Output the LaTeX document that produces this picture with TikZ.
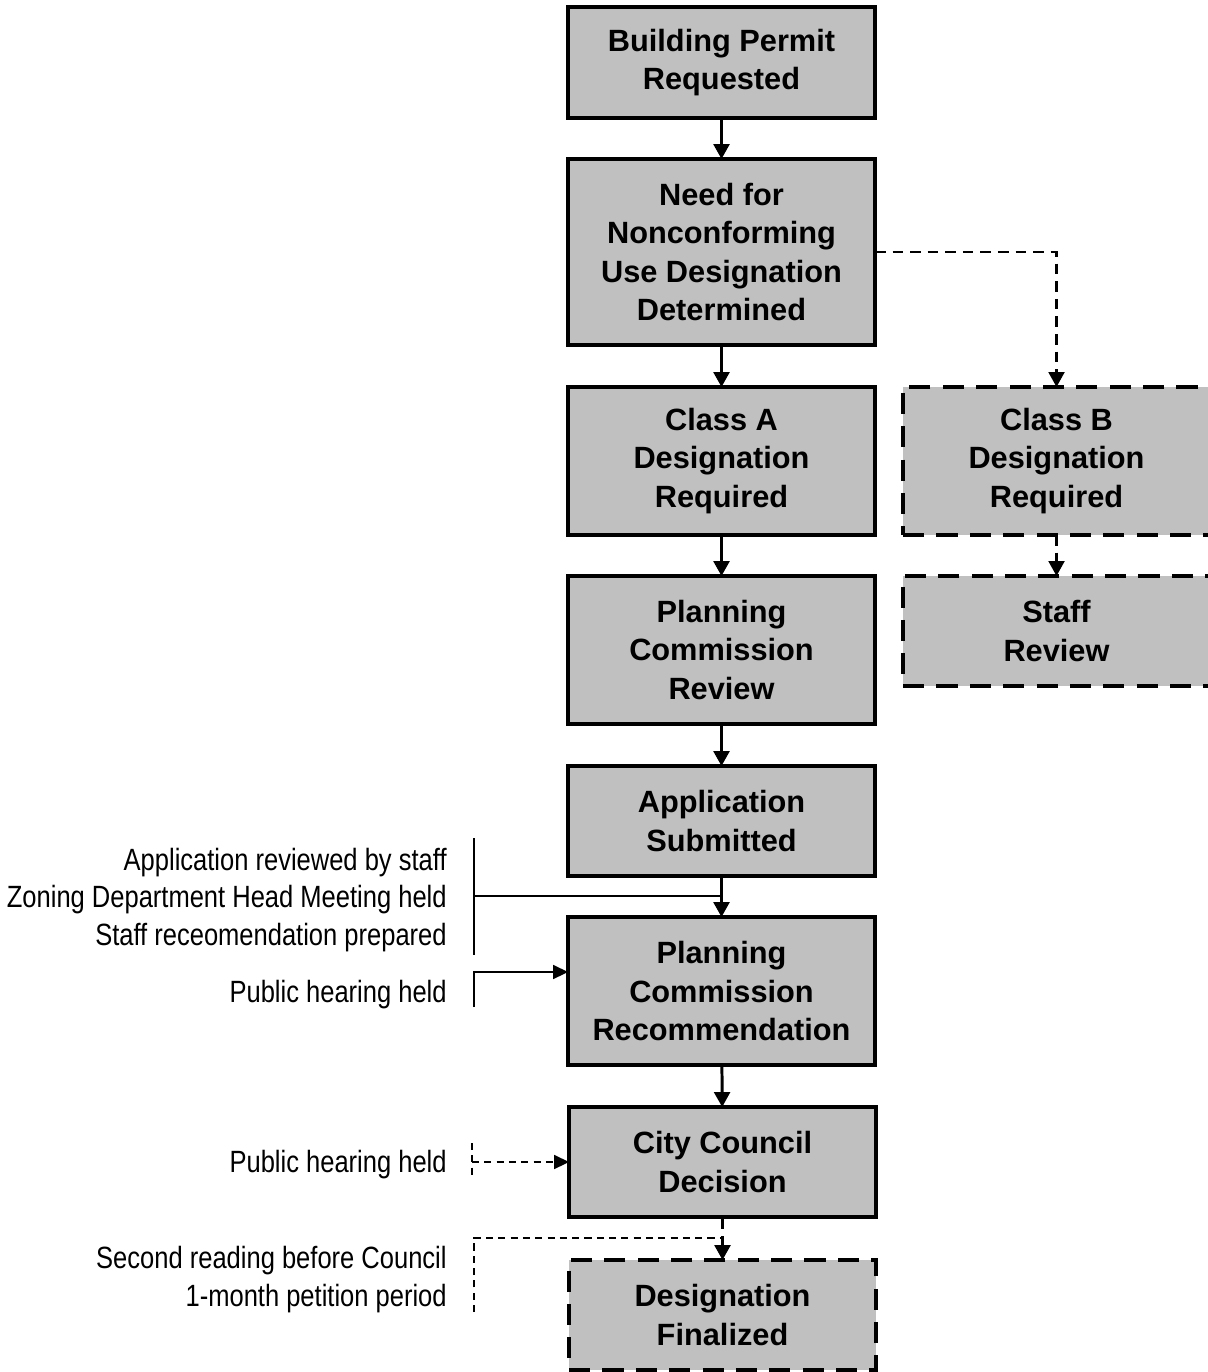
\documentclass[tikz,border=0pt]{standalone}
\usepackage{fontspec}
\setmainfont{Liberation Sans}
\newfontfamily\notefont[FakeStretch=0.83]{Liberation Sans}
\usetikzlibrary{arrows.meta}
\definecolor{boxgray}{RGB}{192,192,192}

\begin{document}
\begin{tikzpicture}[
        x=0.02cm,
        y=-0.02cm,
        main box/.style={draw, fill=boxgray, line width=2.6pt, minimum width=6.14cm, inner sep=0pt, outer sep=0pt, align=center, font=\fontsize{17.5}{22}\selectfont\bfseries},
        side box/.style={main box, dash pattern=on 12pt off 7pt},
        flow/.style={line width=1.7pt, -{Triangle[length=8.5pt,width=9pt]}},
        side flow/.style={flow, line width=1.4pt, dash pattern=on 6pt off 4pt},
        note/.style={anchor=east, align=right, inner sep=0pt, font=\notefont\fontsize{17.5}{21.6}\selectfont},
        note line/.style={line width=0.8pt},
        note flow/.style={note line, -{Triangle[length=8.5pt,width=8pt]}},
        note dash/.style={note line, dash pattern=on 4pt off 3pt}
    ]
    \useasboundingbox (0,0) rectangle (1207,1372);
    \node[main box, minimum height=2.22cm] (permit) at (721.5,62.5) {Building Permit\\Requested};
    \node[main box, minimum height=3.72cm] (need) at (721.5,252) {Need for\\Nonconforming\\Use Designation\\Determined};
    \node[main box, minimum height=2.96cm] (classA) at (721.5,461) {Class A\\Designation\\Required};
    \node[side box, minimum height=2.96cm] (classB) at (1056.5,461) {Class B\\Designation\\Required};
    \node[main box, minimum height=2.96cm] (pcreview) at (721.5,650) {Planning\\Commission\\Review};
    \node[side box, minimum height=2.2cm] (staff) at (1056.5,631) {Staff\\Review};
    \node[main box, minimum height=2.2cm] (submitted) at (721.5,821) {Application\\Submitted};
    \node[main box, minimum height=2.96cm] (recommend) at (721.5,991) {Planning\\Commission\\Recommendation};
    \node[main box, minimum height=2.2cm] (council) at (722.5,1162) {City Council\\Decision};
    \node[side box, minimum height=2.2cm] (final) at (722.5,1315) {Designation\\Finalized};

    \draw[flow] (permit) -- (need);
    \draw[flow] (need) -- (classA);
    \draw[flow] (classA) -- (pcreview);
    \draw[flow] (pcreview) -- (submitted);
    \draw[flow] (submitted) -- (recommend);
    \draw[flow] (recommend) -- (council);
    \draw[flow, dash pattern=on 7pt off 4pt] (council) -- (final);
    \draw[side flow] (need.east) -| (classB.north);
    \draw[side flow] (classB) -- (staff);

    \node[note] (reviewnote) at (447,900) {Application reviewed by staff\\Zoning Department Head Meeting held\\Staff receomendation prepared};
    \node[note] (hearingone) at (447,995) {Public hearing held};
    \node[note] (hearingtwo) at (447,1165) {Public hearing held};
    \node[note] (readingnote) at (447,1280) {Second reading before Council\\1-month petition period};

    \coordinate (reviewtop) at (474,838);
    \coordinate (reviewmid) at (474,896);
    \coordinate (reviewbot) at (474,955);
    \draw[note line] (reviewtop) -- (reviewbot);
    \draw[note line] (reviewmid) -- (reviewmid -| submitted.south);

    \coordinate (hearonetop) at (474,972);
    \coordinate (hearonebot) at (474,1007);
    \draw[note flow] (hearonebot) -- (hearonetop) -- (hearonetop -| recommend.west);

    \coordinate (heartwotop) at (472,1143);
    \coordinate (heartwobot) at (472,1177);
    \draw[note dash] (heartwotop) -- (heartwobot);
    \draw[note dash, -{Triangle[length=8.5pt,width=8pt]}] (heartwotop |- council.west) -- (council.west);

    \coordinate (readtop) at (474,1238);
    \coordinate (readbot) at (474,1312);
    \draw[note dash] (readbot) -- (readtop) -- (readtop -| final.north);
\end{tikzpicture}
\end{document}
